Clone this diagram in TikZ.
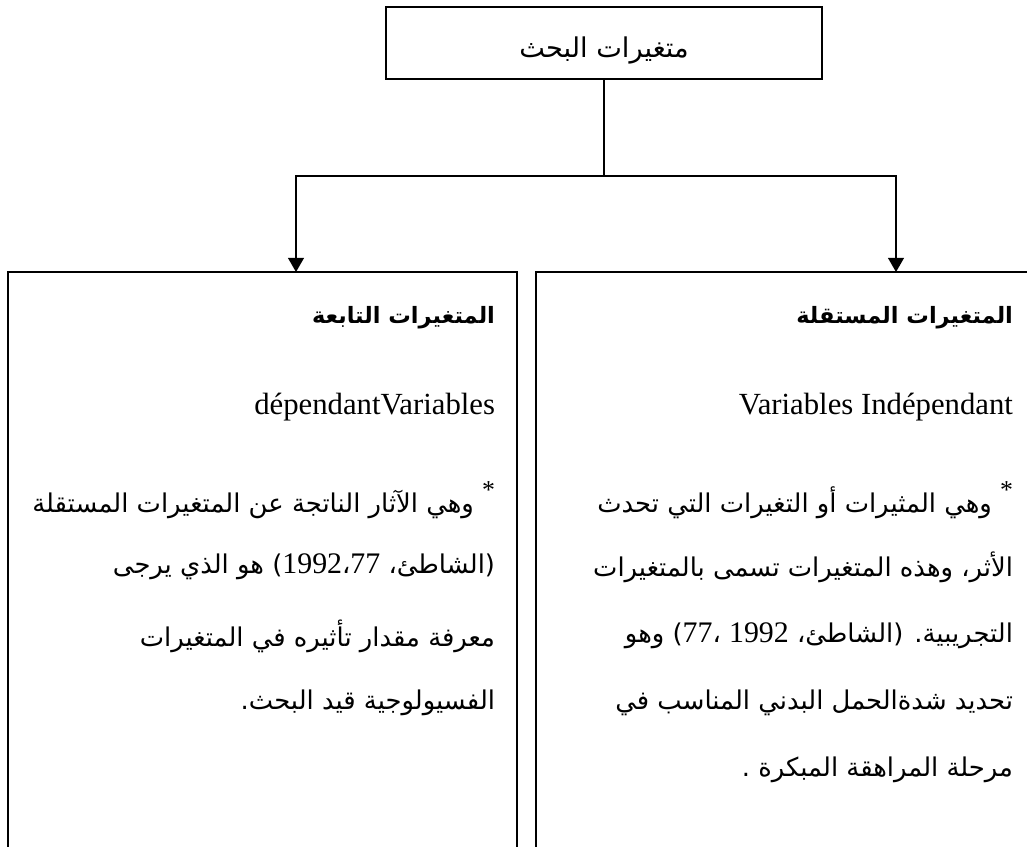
\documentclass[tikz,border=0pt]{standalone}
\usepackage{fontspec}
\setmainfont{Liberation Serif}
\newfontfamily\arabicfont[Script=Arabic]{DejaVu Sans}
\TeXXeTstate=1
\usetikzlibrary{arrows.meta}
\newcommand{\refnum}[1]{{\rmfamily\fontsize{17}{20}\selectfont #1}}
\tikzset{
    every node/.style={inner sep=0pt, outer sep=0pt},
    titlebox/.style={draw, line width=1.6pt, minimum width=8.72cm, minimum height=1.44cm},
    titletext/.style={font=\arabicfont\fontsize{15.5}{18}\selectfont},
    panel/.style={draw, line width=1.6pt, anchor=north west, minimum height=12.6cm},
    arline/.style={anchor=east, font=\arabicfont\fontsize{14.7}{18}\selectfont},
    arhead/.style={anchor=east, font=\arabicfont\bfseries\fontsize{12.8}{15}\selectfont},
    laline/.style={anchor=east, font=\fontsize{17.5}{21}\selectfont},
    link/.style={line width=0.8pt},
    drop/.style={link, -{Triangle[width=9pt,length=8pt]}}
}

\begin{document}
\begin{tikzpicture}[x=0.02cm, y=-0.02cm]
    \path [use as bounding box, clip] (0,0) rectangle (1027,846);

    \node (vars) [titlebox] at (604, 43) {};
    \node (varst) [titletext] at (604, 50) {\beginR متغيرات البحث\endR};
    \node (dep) [panel, minimum width=10.18cm] at (8, 272) {};
    \node (ind) [panel, minimum width=10.2cm] at (536, 272) {};

    \coordinate (split) at (604, 176);
    \coordinate (depin) at (296, 272);
    \coordinate (indin) at (896, 272);

    % right panel
    \node (indh) [arhead] at (1013, 318) {\beginR المتغيرات المستقلة\endR};
    \node (indl) [laline] at (1013, 407) {Variables Indépendant};
    \node (ind1) [arline] at (1013, 500) {\beginR\raisebox{1ex}{\rmfamily *}\ وهي المثيرات أو التغيرات التي تحدث\endR};
    \node (ind2) [arline] at (1013, 567) {\beginR الأثر، وهذه المتغيرات تسمى بالمتغيرات\endR};
    \node (ind3) [arline] at (1013, 636) {\beginR التجريبية. (الشاطئ، \refnum{1992} ،\refnum{77}) وهو\endR};
    \node (ind4) [arline] at (1013, 703) {\beginR تحديد شدةالحمل البدني المناسب في\endR};
    \node (ind5) [arline] at (1013, 770) {\beginR مرحلة المراهقة المبكرة .\endR};

    % left panel
    \node (deph) [arhead] at (495, 318) {\beginR المتغيرات التابعة\endR};
    \node (depl) [laline] at (495, 407) {dépendantVariables};
    \node (dep1) [arline] at (495, 500) {\beginR\raisebox{1ex}{\rmfamily *}\ وهي الآثار الناتجة عن المتغيرات المستقلة\endR};
    \node (dep2) [arline] at (495, 567) {\beginR(الشاطئ، \beginL\refnum{1992}،\refnum{77}\endL{}) هو الذي يرجى\endR};
    \node (dep3) [arline] at (495, 636) {\beginR معرفة مقدار تأثيره في المتغيرات\endR};
    \node (dep4) [arline] at (495, 703) {\beginR الفسيولوجية قيد البحث.\endR};

    \draw [link] (vars.south) -- (split);
    \draw [drop] (split) -| (depin);
    \draw [drop] (split) -| (indin);
\end{tikzpicture}
\end{document}
